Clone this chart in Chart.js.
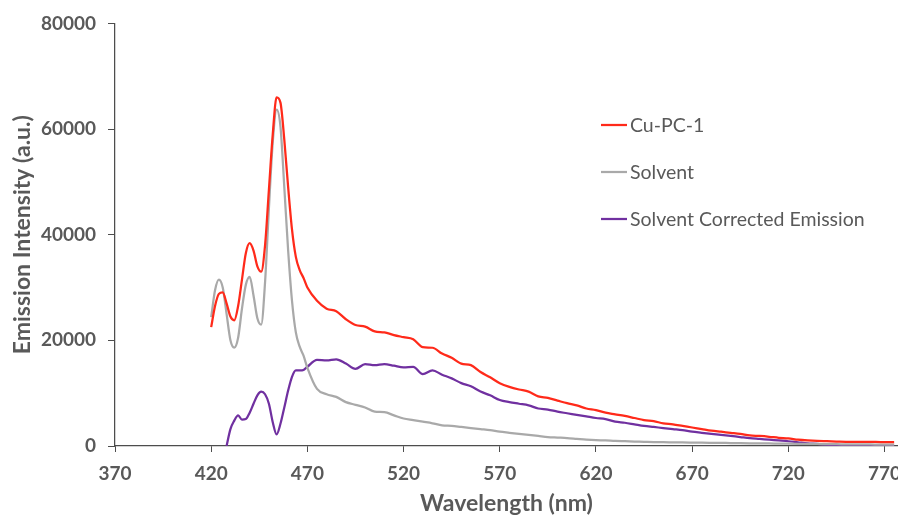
<!DOCTYPE html>
<html>
<head>
<meta charset="utf-8">
<script src="https://cdn.jsdelivr.net/npm/chart.js@4.4.1/dist/chart.umd.min.js"></script>
<style>
  html, body { margin: 0; padding: 0; background: #fff; }
  #wrap { width: 898px; height: 518px; position: relative; }
</style>
</head>
<body>
<div id="wrap"><canvas id="emissionChart"></canvas></div>
<script>
// Wavelength grid (nm): 2 nm steps through the peaks, 5 nm after
const wavelengths = [
  420, 422, 424, 426, 428, 430, 432, 434, 436, 438, 440, 442, 444, 446, 448, 450,
  452, 454, 456, 458, 460, 462, 464, 466, 468, 470,
  475, 480, 485, 490, 495, 500, 505, 510, 515, 520, 525, 530, 535, 540, 545, 550,
  555, 560, 565, 570, 575, 580, 585, 590, 595, 600, 605, 610, 615, 620, 625, 630,
  635, 640, 645, 650, 655, 660, 665, 670, 675, 680, 685, 690, 695, 700, 705, 710,
  715, 720, 725, 730, 735, 740, 745, 750, 755, 760, 765, 770, 775
];

const cuPc1 = [
  22500, 26500, 28800, 29100, 27000, 24500, 23800, 26500, 31500, 36500, 38400, 37000, 34000, 33000, 38000, 48500,
  59000, 66000, 65000, 58000, 49000, 41000, 35800, 33300, 31800, 30000,
  27500, 26000, 25500, 24000, 22900, 22600, 21700, 21500, 21000, 20600, 20200, 18700, 18600, 17500, 16700, 15600,
  15300, 14000, 13000, 11900, 11200, 10700, 10300, 9400, 9100, 8600, 8100, 7700, 7100, 6800, 6300, 6000,
  5700, 5300, 4900, 4700, 4300, 4100, 3800, 3500, 3200, 2900, 2700, 2500, 2300, 2000, 1900, 1750,
  1550, 1450, 1200, 1050, 950, 900, 850, 800, 780, 760, 760, 750, 740
];

const solvent = [
  24400, 29500, 31500, 30000, 25000, 20000, 18600, 20500, 26000, 30500, 32000, 28500, 24200, 23000, 31000, 45000,
  57500, 63700, 60500, 49000, 37000, 27500, 21500, 18800, 17100, 14800,
  10800, 9800, 9300, 8300, 7800, 7300, 6500, 6400, 5800, 5200, 4900, 4600, 4300, 3900, 3800, 3600,
  3400, 3200, 3000, 2700, 2500, 2300, 2100, 1900, 1700, 1600, 1500, 1350, 1200, 1100, 1050, 950,
  900, 850, 800, 750, 720, 700, 680, 650, 620, 600, 580, 560, 540, 520, 500, 480,
  460, 440, 420, 400, 380, 360, 340, 320, 300, 290, 280, 270, 260
];

const corrected = [
  null, null, null, null, 0, 3200, 4800, 5800, 5000, 5100, 6300, 8000, 9600, 10300, 9800, 8000,
  4500, 2200, 4200, 7300, 10500, 13100, 14300, 14300, 14400, 15000,
  16300, 16200, 16400, 15600, 14600, 15500, 15300, 15500, 15200, 14900, 15000, 13600, 14300, 13500, 12800, 11900,
  11300, 10300, 9600, 8700, 8300, 8000, 7700, 7100, 6900, 6500, 6200, 5900, 5600, 5300, 5100, 4600,
  4400, 4100, 3800, 3600, 3400, 3200, 3000, 2700, 2500, 2300, 2100, 1900, 1700, 1500, 1350, 1200,
  1050, 900, 700, 500, 400, 250, 120, 60, 40, 30, 30, 30, 30
];

const xTicks = [370, 420, 470, 520, 570, 620, 670, 720, 770];
const yTicks = [0, 20000, 40000, 60000, 80000];

const TEXT = '#595959';
const AXIS = '#4d4d4d';

function toPoints(ys) {
  return wavelengths.map((w, i) => ({ x: w, y: ys[i] }));
}

function line(label, ys, color) {
  return {
    label: label,
    data: toPoints(ys),
    borderColor: color,
    backgroundColor: color,
    borderWidth: 2.25,
    pointRadius: 0,
    cubicInterpolationMode: 'monotone',
    spanGaps: false
  };
}

// legend drawn at the right, inside the plot, like the original
const sideLegend = {
  id: 'sideLegend',
  afterDraw(chart) {
    const ctx = chart.ctx;
    const x0 = 601, rows = [125, 172, 219];
    ctx.save();
    ctx.font = '19.5px Lato';
    ctx.textBaseline = 'middle';
    ctx.fillStyle = TEXT;
    chart.data.datasets.forEach((ds, i) => {
      const y = rows[i];
      ctx.strokeStyle = ds.borderColor;
      ctx.lineWidth = 2.25;
      ctx.beginPath();
      ctx.moveTo(x0, y);
      ctx.lineTo(x0 + 26, y);
      ctx.stroke();
      ctx.fillText(ds.label, x0 + 29, y + 1);
    });
    ctx.restore();
  }
};

new Chart(document.getElementById('emissionChart'), {
  type: 'line',
  data: {
    datasets: [
      line('Cu-PC-1', cuPc1, '#ff2a1a'),
      line('Solvent', solvent, '#a9a9a9'),
      line('Solvent Corrected Emission', corrected, '#7030a0')
    ]
  },
  options: {
    responsive: true,
    maintainAspectRatio: false,
    animation: false,
    layout: { padding: { top: 21, right: 0, bottom: 0, left: 0 } },
    plugins: {
      legend: { display: false },
      tooltip: { enabled: false }
    },
    scales: {
      x: {
        type: 'linear',
        min: 370,
        max: 777,
        afterFit(scale) { scale.height = 72; scale.paddingRight = 0; },
        afterBuildTicks(scale) { scale.ticks = xTicks.map(v => ({ value: v })); },
        border: { display: true, color: AXIS, width: 1.25 },
        grid: { display: true, drawOnChartArea: false, drawTicks: true, tickLength: 6, color: AXIS },
        ticks: {
          autoSkip: false,
          maxRotation: 0,
          padding: 10,
          color: TEXT,
          font: { family: 'Lato', size: 19, weight: 'bold' },
          callback: (v) => String(v)
        },
        title: {
          display: true,
          text: 'Wavelength (nm)',
          color: TEXT,
          font: { family: 'Lato', size: 23, weight: 'bold' },
          padding: { top: 0, bottom: 1 }
        }
      },
      y: {
        min: 0,
        max: 80000,
        afterFit(scale) { scale.width = 115; },
        afterBuildTicks(scale) { scale.ticks = yTicks.map(v => ({ value: v })); },
        border: { display: true, color: AXIS, width: 1.25 },
        grid: { display: true, drawOnChartArea: false, drawTicks: true, tickLength: 7, color: AXIS },
        ticks: {
          padding: 12,
          color: TEXT,
          font: { family: 'Lato', size: 19, weight: 'bold' },
          callback: (v) => String(v)
        },
        title: {
          display: true,
          text: 'Emission Intensity (a.u.)',
          color: TEXT,
          font: { family: 'Lato', size: 23, weight: 'bold' },
          padding: { top: 9, bottom: 0 }
        }
      }
    }
  },
  plugins: [sideLegend]
});
</script>
</body>
</html>
